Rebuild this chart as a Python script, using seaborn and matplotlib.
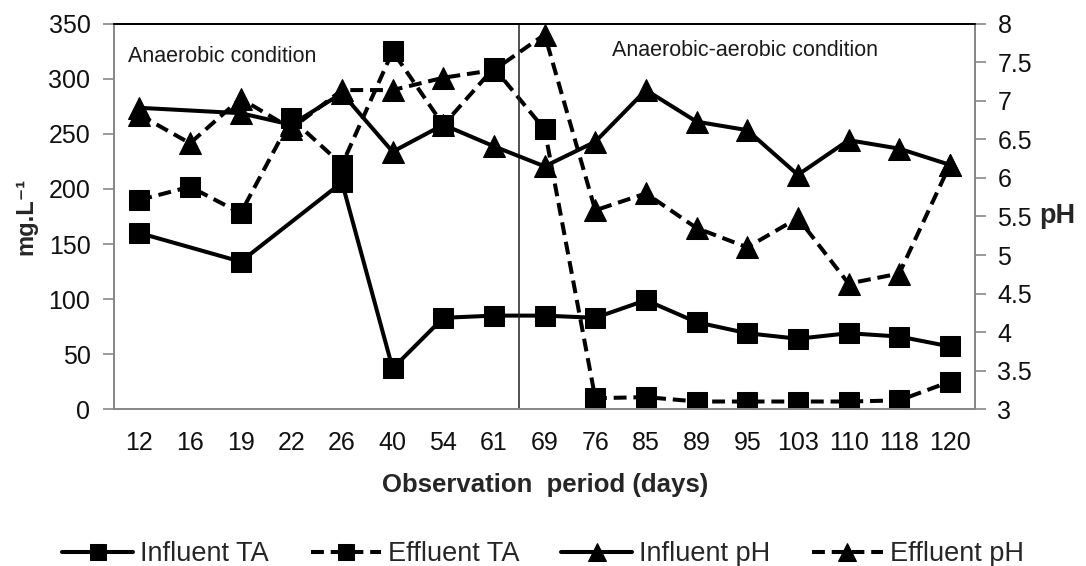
import numpy as np
import pandas as pd
import matplotlib
matplotlib.use("Agg")
import matplotlib.pyplot as plt
import seaborn as sns
from matplotlib.ticker import FixedLocator

days = ["12", "16", "19", "22", "26", "40", "54", "61", "69",
        "76", "85", "89", "95", "103", "110", "118", "120"]

influent_ta = [160, np.nan, 134, np.nan, 206, 37, 83, 85, 85,
               83, 99, 79, 69, 64, 69, 66, 57]
effluent_ta = [190, 202, 178, 264, 222, 325, 258, 310, 254,
               10, 11, 7, 7, 7, 7, 8, 25]
influent_ph = [6.91, np.nan, 6.84, 6.69, 7.10, 6.34, 6.69, 6.41, 6.15,
               6.47, 7.14, 6.73, 6.62, 6.04, 6.49, 6.38, 6.17]
effluent_ph = [6.82, 6.45, 7.03, 6.64, 7.14, 7.14, 7.30, 7.40, 7.86,
               5.58, 5.80, 5.35, 5.10, 5.48, 4.63, 4.76, 6.17]

df = pd.DataFrame({
    "pos": np.arange(len(days)),
    "influent_ta": influent_ta,
    "effluent_ta": effluent_ta,
    "influent_ph": influent_ph,
    "effluent_ph": effluent_ph,
})

sns.set_style("white")
plt.rcParams["font.family"] = ["Liberation Sans", "DejaVu Sans"]

fig = plt.figure(figsize=(10.86, 5.66), dpi=100)
ax = fig.add_axes([0.105, 0.277, 0.793, 0.681])
ax2 = ax.twinx()

lw = 2.9
ms = 14.5
dash = (0, (3.2, 1.7))

handles = []
sns.lineplot(data=df, x="pos", y="influent_ta", ax=ax, color="black", lw=lw,
             marker="s", markersize=ms, markeredgecolor="black")
handles.append(ax.lines[-1])
sns.lineplot(data=df, x="pos", y="effluent_ta", ax=ax, color="black", lw=lw,
             linestyle=dash, marker="s", markersize=ms, markeredgecolor="black")
handles.append(ax.lines[-1])
sns.lineplot(data=df, x="pos", y="influent_ph", ax=ax2, color="black", lw=lw,
             marker="^", markersize=ms + 1, markeredgecolor="black")
handles.append(ax2.lines[-1])
sns.lineplot(data=df, x="pos", y="effluent_ph", ax=ax2, color="black", lw=lw,
             linestyle=dash, marker="^", markersize=ms + 1, markeredgecolor="black")
handles.append(ax2.lines[-1])

# divider between the two operating periods
ax.axvline(7.5, color="#222222", lw=1.1)

ax.set_xlim(-0.5, len(days) - 0.5)
ax.set_ylim(0, 350)
ax2.set_ylim(3, 8)
ax.set_yticks(np.arange(0, 351, 50))
ax2.set_yticks(np.arange(3, 8.01, 0.5))
ax2.set_yticklabels(["3", "3.5", "4", "4.5", "5", "5.5", "6", "6.5", "7", "7.5", "8"])

ax.set_xticks(np.arange(len(days)))
ax.set_xticklabels(days)
ax.xaxis.set_minor_locator(FixedLocator(np.arange(-0.5, len(days), 1.0)))
ax.tick_params(axis="x", which="major", length=0, pad=16, labelsize=18, colors="#111111")
ax.tick_params(axis="x", which="minor", length=8, width=1.2, color="#888888", direction="out")
ax.tick_params(axis="y", length=8, width=1.2, color="#888888", direction="out",
               pad=9, labelsize=18, labelcolor="#111111")
ax2.tick_params(axis="y", length=8, width=1.2, color="#888888", direction="out",
                pad=8, labelsize=18, labelcolor="#111111")

for a in (ax, ax2):
    for side in ("left", "right", "bottom"):
        a.spines[side].set_color("#888888")
        a.spines[side].set_linewidth(1.3)
    a.spines["top"].set_color("black")
    a.spines["top"].set_linewidth(1.3)

ax.set_xlabel("Observation  period (days)", fontsize=18.5, fontweight="bold", labelpad=13)
ax.set_ylabel("mg.L\u207b\u00b9", fontsize=17, fontweight="bold", labelpad=8)
ax2.set_ylabel("pH", fontsize=19.5, fontweight="bold", rotation=0, labelpad=18, va="center")

ax.text(0.016, 0.915, "Anaerobic condition", transform=ax.transAxes,
        fontsize=15.5, color="#1a1a1a", va="center", ha="left")
ax.text(0.578, 0.93, "Anaerobic-aerobic condition", transform=ax.transAxes,
        fontsize=15.5, color="#1a1a1a", va="center", ha="left")

fig.legend(handles, ["Influent TA", "Effluent TA", "Influent pH", "Effluent pH"],
           loc="center", bbox_to_anchor=(0.5, 1 - 554 / 566), ncol=4, frameon=False,
           fontsize=19.5, handlelength=2.6, handletextpad=0.26, columnspacing=1.55,
           markerscale=0.8)

fig.savefig("out.png", dpi=100)
